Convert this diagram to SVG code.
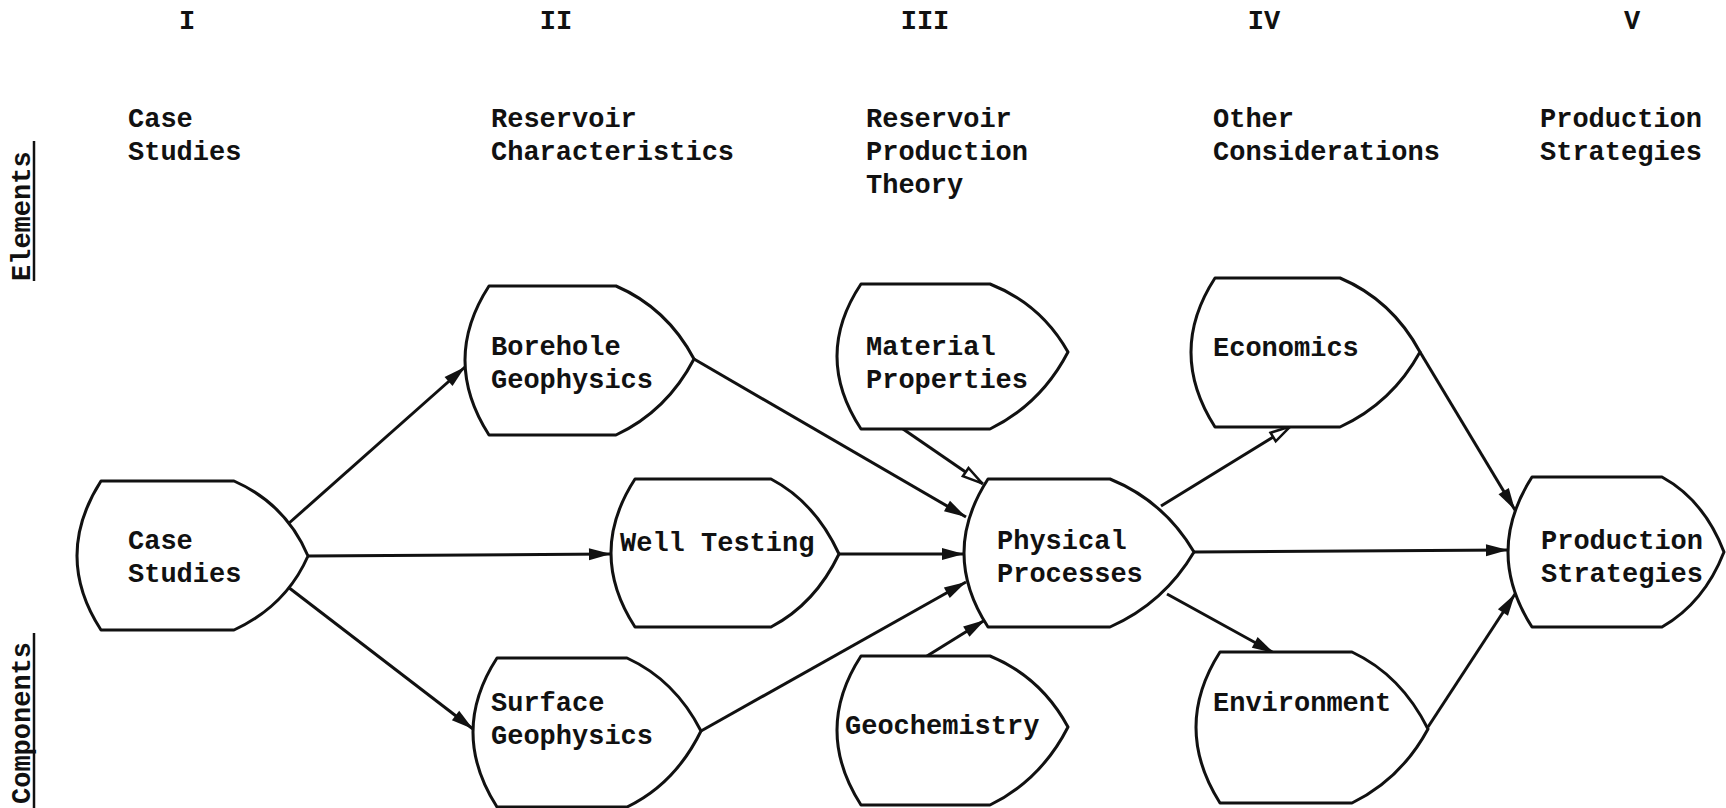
<svg xmlns="http://www.w3.org/2000/svg" width="1726" height="808" viewBox="0 0 1726 808">
<defs>
<style>
text{font-family:"Liberation Mono","Courier New",monospace;font-size:27px;font-weight:bold;fill:#111}
.node path{fill:#fff;stroke:#111;stroke-width:3;stroke-linejoin:round}
.conn line{stroke:#111;stroke-width:3}
.rule{stroke:#111;stroke-width:2.5}
</style>
<marker id="ah" markerUnits="userSpaceOnUse" markerWidth="24" markerHeight="14" refX="23" refY="7" orient="auto">
<path d="M1,1 L23,7 L1,13 z" fill="#111"/>
</marker>
<marker id="aho" markerUnits="userSpaceOnUse" markerWidth="24" markerHeight="14" refX="23" refY="7" orient="auto">
<path d="M2,2 L22,7 L2,12 z" fill="#fff" stroke="#111" stroke-width="2.5"/>
</marker>
</defs>
<rect width="1726" height="808" fill="#fff"/>

<g id="headers">
<text x="187" y="29" text-anchor="middle">I</text>
<text x="556" y="29" text-anchor="middle">II</text>
<text x="925" y="29" text-anchor="middle">III</text>
<text x="1264" y="29" text-anchor="middle">IV</text>
<text x="1632" y="29" text-anchor="middle">V</text>
<text x="128" y="127">Case</text>
<text x="128" y="160">Studies</text>
<text x="491" y="127">Reservoir</text>
<text x="491" y="160">Characteristics</text>
<text x="866" y="127">Reservoir</text>
<text x="866" y="160">Production</text>
<text x="866" y="193">Theory</text>
<text x="1213" y="127">Other</text>
<text x="1213" y="160">Considerations</text>
<text x="1540" y="127">Production</text>
<text x="1540" y="160">Strategies</text>
</g>

<g id="side-labels">
<text transform="translate(30,281) rotate(-90)">Elements</text>
<line class="rule" x1="34" y1="141" x2="34" y2="281"/>
<text transform="translate(30,804) rotate(-90)">Components</text>
<line class="rule" x1="34" y1="633" x2="34" y2="808"/>
</g>

<g id="connectors" class="conn">
<line x1="288" y1="524" x2="465" y2="367" marker-end="url(#ah)"/>
<line x1="308" y1="556" x2="611" y2="554" marker-end="url(#ah)"/>
<line x1="288" y1="587" x2="473" y2="729" marker-end="url(#ah)"/>
<line x1="694" y1="359" x2="966" y2="517" marker-end="url(#ah)"/>
<line x1="839" y1="554" x2="964" y2="554" marker-end="url(#ah)"/>
<line x1="701" y1="731" x2="966" y2="582" marker-end="url(#ah)"/>
<line x1="903" y1="429" x2="983" y2="484" marker-end="url(#aho)"/>
<line x1="927" y1="656" x2="985" y2="620" marker-end="url(#ah)"/>
<line x1="1161" y1="506" x2="1291" y2="426" marker-end="url(#aho)"/>
<line x1="1194" y1="552" x2="1508" y2="550" marker-end="url(#ah)"/>
<line x1="1167" y1="594" x2="1274" y2="653" marker-end="url(#ah)"/>
<line x1="1420" y1="352" x2="1515" y2="510" marker-end="url(#ah)"/>
<line x1="1428" y1="727" x2="1515" y2="594" marker-end="url(#ah)"/>
</g>

<g id="case-studies" class="node">
<path d="M101,481 L234,481 Q286,504 308,556 Q286,606 234,630 L101,630 Q53,556 101,481 z"/>
<text x="128" y="549">Case</text>
<text x="128" y="582">Studies</text>
</g>
<g id="borehole-geophysics" class="node">
<path d="M489,286 L616,286 Q667,308 694,359 Q667,411 616,435 L489,435 Q441,360 489,286 z"/>
<text x="491" y="355">Borehole</text>
<text x="491" y="388">Geophysics</text>
</g>
<g id="well-testing" class="node">
<path d="M635,479 L771,479 Q815,502 839,554 Q815,604 771,627 L635,627 Q587,553 635,479 z"/>
<text x="620" y="551">Well Testing</text>
</g>
<g id="surface-geophysics" class="node">
<path d="M497,658 L627,658 Q675,680 701,731 Q675,784 627,807 L497,807 Q449,732 497,658 z"/>
<text x="491" y="711">Surface</text>
<text x="491" y="744">Geophysics</text>
</g>
<g id="material-properties" class="node">
<path d="M861,284 L990,284 Q1041,304 1068,352 Q1041,404 990,429 L861,429 Q813,356 861,284 z"/>
<text x="866" y="355">Material</text>
<text x="866" y="388">Properties</text>
</g>
<g id="physical-processes" class="node">
<path d="M988,479 L1110,479 Q1164,501 1194,552 Q1164,603 1110,627 L988,627 Q940,553 988,479 z"/>
<text x="997" y="549">Physical</text>
<text x="997" y="582">Processes</text>
</g>
<g id="geochemistry" class="node">
<path d="M861,656 L990,656 Q1041,677 1068,727 Q1041,780 990,805 L861,805 Q813,730 861,656 z"/>
<text x="845" y="734">Geochemistry</text>
</g>
<g id="economics" class="node">
<path d="M1215,278 L1340,278 Q1392,300 1420,352 Q1392,403 1340,427 L1215,427 Q1167,352 1215,278 z"/>
<text x="1213" y="356">Economics</text>
</g>
<g id="environment" class="node">
<path d="M1220,652 L1352,652 Q1401,675 1428,729 Q1401,779 1352,803 L1220,803 Q1172,727 1220,652 z"/>
<text x="1213" y="711">Environment</text>
</g>
<g id="production-strategies" class="node">
<path d="M1532,477 L1662,477 Q1704,500 1724,552 Q1704,603 1662,627 L1532,627 Q1484,552 1532,477 z"/>
<text x="1541" y="549">Production</text>
<text x="1541" y="582">Strategies</text>
</g>
</svg>
